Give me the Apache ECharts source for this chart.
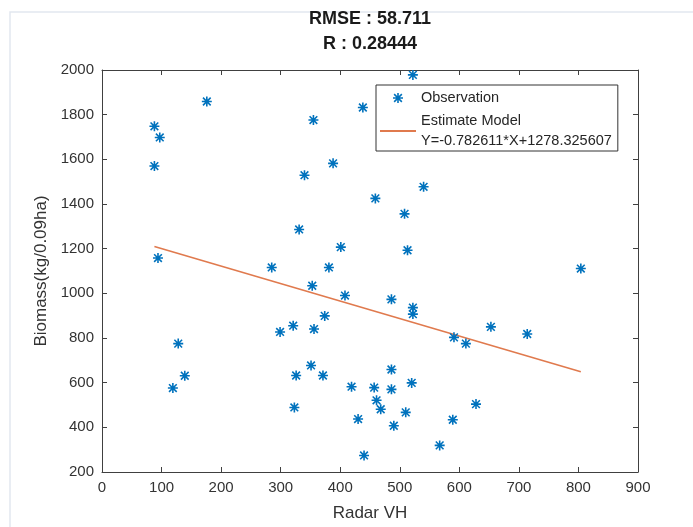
<!DOCTYPE html>
<html>
<head>
<meta charset="utf-8">
<script src="https://cdn.jsdelivr.net/npm/echarts@6/dist/echarts.min.js"></script>
<style>html,body{margin:0;padding:0;background:#fff}#c{width:693px;height:527px}</style>
</head>
<body>
<div id="c"></div>
<script>
// Observation data (Radar VH, Biomass)
var obsX = [176, 88, 97, 88, 94, 285, 299, 321, 128, 139, 119, 522, 438, 355, 388, 340, 540, 459, 508, 331, 401, 513, 381, 353, 408, 486, 522, 522, 374, 356, 591, 611, 351, 326, 371, 486, 419, 457, 486, 520, 461, 468, 510, 323, 430, 490, 589, 567, 440, 628, 804, 653, 714];
var obsY = [1859, 1748, 1698, 1570, 1158, 1116, 827, 855, 775, 631, 576, 1978, 1832, 1776, 1582, 1529, 1477, 1425, 1356, 1286, 1207, 1193, 1116, 1034, 990, 973, 936, 907, 899, 840, 803, 775, 677, 632, 632, 659, 582, 578, 570, 599, 521, 481, 467, 489, 437, 407, 434, 319, 274, 504, 1111, 850, 818];
// Estimate model line endpoints
var fitX = [88, 804];
var fitY = [1209.5, 649.1];
var xTicks = [0, 100, 200, 300, 400, 500, 600, 700, 800, 900];
var yTicks = [200, 400, 600, 800, 1000, 1200, 1400, 1600, 1800, 2000];
var titleLines = ['RMSE : 58.711', 'R : 0.28444'];
var seriesNames = ['Observation', 'Estimate Model'];
var fitLabel = 'Y=-0.782611*X+1278.325607';

var FONT = '"Liberation Sans", Arial, Helvetica, sans-serif';
var AX = '#404040';
var BLUE = '#0072BD';
var ORANGE = '#E07A4E';
var star = 'path://M4.2 0 L5.8 0 L5.8 10 L4.2 10 Z M0 4.2 L10 4.2 L10 5.8 L0 5.8 Z M0.6 1.7 L1.7 0.6 L9.4 8.3 L8.3 9.4 Z M8.3 0.6 L9.4 1.7 L1.7 9.4 L0.6 8.3 Z';
var lineIcon = 'path://M0 0 L36 0 L36 2 L0 2 Z';

var chart = echarts.init(document.getElementById('c'), null, {renderer: 'canvas'});
var obs = obsX.map(function (x, i) { return [x, obsY[i]]; });
var fit = fitX.map(function (x, i) { return [x, fitY[i]]; });

function axisCommon(showLabel) {
  return {
    axisLine: {show: true, onZero: false, lineStyle: {color: AX, width: 1}},
    axisTick: {show: true, inside: true, length: 5, lineStyle: {color: AX, width: 1}},
    axisLabel: {show: showLabel, color: '#333', fontSize: 15, fontFamily: FONT, formatter: function (v) { return String(v); }},
    splitLine: {show: false}
  };
}

var xMin = xTicks[0], xMax = xTicks[xTicks.length - 1];
var yMin = yTicks[0], yMax = yTicks[yTicks.length - 1];

chart.setOption({
  animation: false,
  backgroundColor: '#fff',
  grid: {left: 102, right: 55, top: 70, bottom: 52, containLabel: false},
  graphic: [
    {type: 'rect', shape: {x: 10, y: 12, width: 720, height: 600}, style: {fill: 'none', stroke: '#e2e7ef', lineWidth: 1.5}, silent: true},
    {type: 'text', x: 370, y: 19, style: {text: titleLines[0], fontSize: 18, fontWeight: 'bold', fontFamily: FONT, fill: '#1a1a1a', textAlign: 'center', textVerticalAlign: 'middle'}},
    {type: 'text', x: 370, y: 44, style: {text: titleLines[1], fontSize: 18, fontWeight: 'bold', fontFamily: FONT, fill: '#1a1a1a', textAlign: 'center', textVerticalAlign: 'middle'}}
  ],
  xAxis: [
    Object.assign(axisCommon(true), {
      type: 'value', min: xMin, max: xMax, interval: 100, position: 'bottom',
      name: 'Radar VH', nameLocation: 'middle', nameGap: 33,
      nameTextStyle: {fontSize: 17, color: '#333', fontFamily: FONT}
    }),
    Object.assign(axisCommon(false), {type: 'value', min: xMin, max: xMax, interval: 100, position: 'top'})
  ],
  yAxis: [
    Object.assign(axisCommon(true), {
      type: 'value', min: yMin, max: yMax, interval: 200, position: 'left',
      name: 'Biomass(kg/0.09ha)', nameLocation: 'middle', nameGap: 46, nameRotate: 90,
      nameTextStyle: {fontSize: 17, color: '#333', fontFamily: FONT}
    }),
    Object.assign(axisCommon(false), {type: 'value', min: yMin, max: yMax, interval: 200, position: 'right'})
  ],
  legend: {
    orient: 'vertical',
    left: 376, top: 85,
    backgroundColor: '#fff',
    borderColor: '#333', borderWidth: 1,
    padding: [3, 6, 0, 4],
    itemGap: 3,
    itemWidth: 36, itemHeight: 10,
    textStyle: {fontSize: 14.5, color: '#262626', fontFamily: FONT, lineHeight: 20},
    formatter: function (name) { return name === seriesNames[1] ? name + '\n' + fitLabel : name; },
    data: [
      {name: seriesNames[0], icon: star, itemStyle: {color: BLUE}},
      {name: seriesNames[1], icon: lineIcon, itemStyle: {color: ORANGE, borderWidth: 0}}
    ]
  },
  series: [
    {
      name: seriesNames[0], type: 'scatter', data: obs,
      symbol: star, symbolSize: 10,
      itemStyle: {color: BLUE, opacity: 1}
    },
    {
      name: seriesNames[1], type: 'line', data: fit,
      symbol: 'none', showSymbol: false,
      lineStyle: {color: ORANGE, width: 1.6},
      itemStyle: {color: ORANGE},
      z: 1
    }
  ]
});
</script>
</body>
</html>
